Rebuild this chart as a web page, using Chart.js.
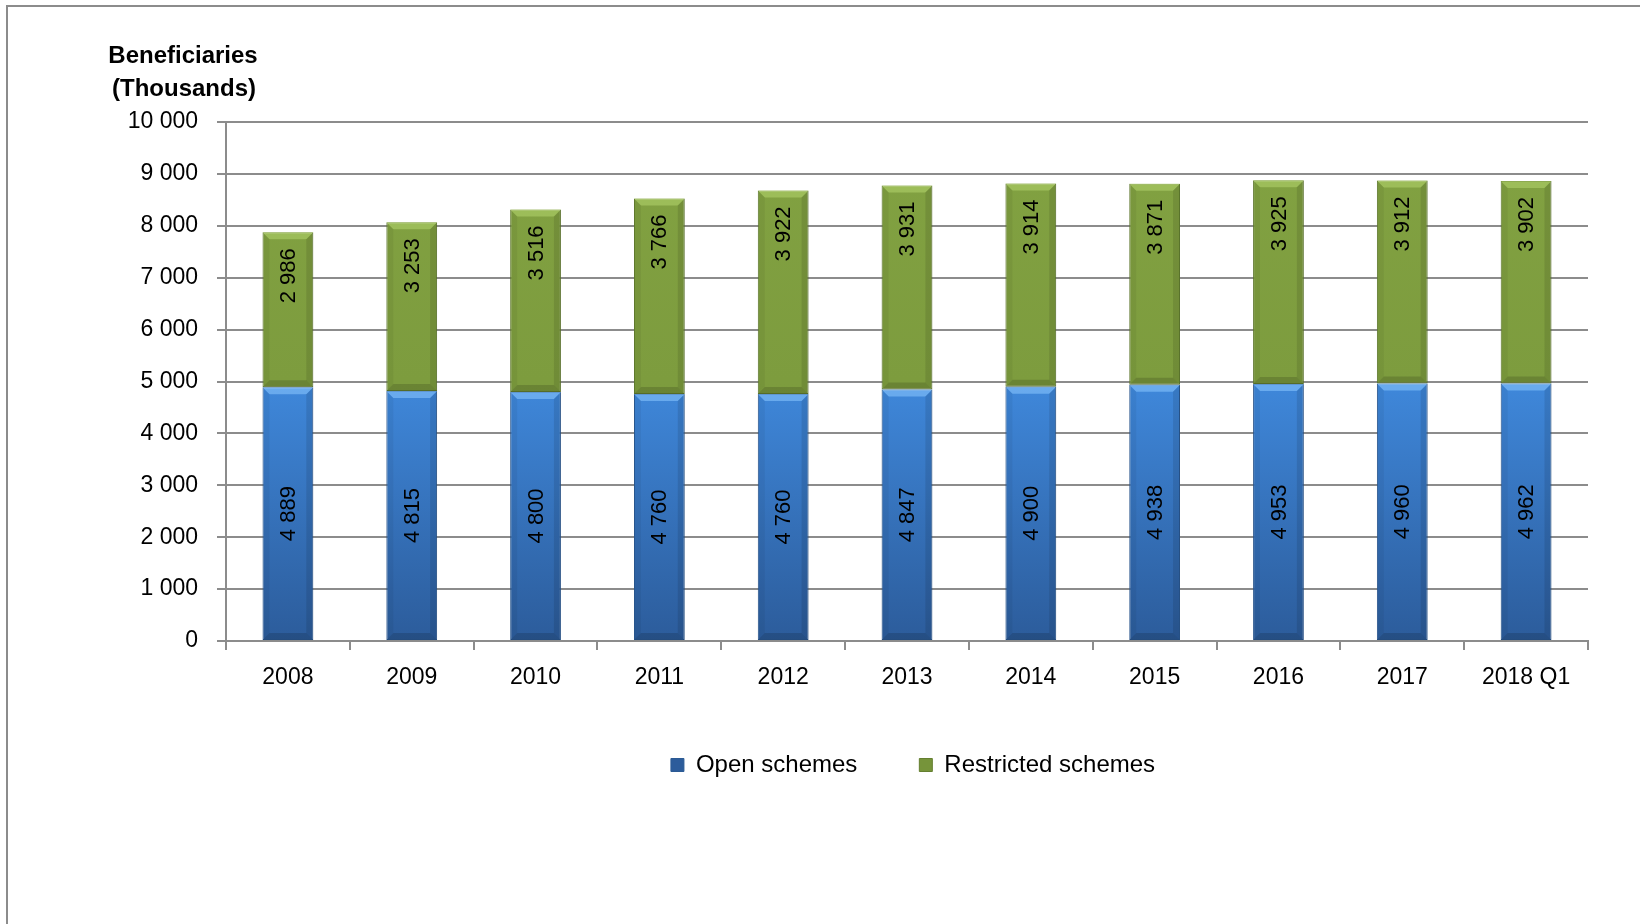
<html>
  <head>
    <title>Beneficiaries by scheme type</title>
    <script src="https://cdn.jsdelivr.net/npm/chart.js@4.4.1/dist/chart.umd.min.js"></script>
    <style>
      body   { margin:0; background:#fff; overflow:hidden; }
      .frame { position:absolute; left:6px; top:5px; width:1700px; height:1000px; border-left:2px solid #8c8c8c; border-top:2px solid #8c8c8c; }
      .wrap  { position:absolute; left:0; top:0; width:1640px; height:924px; }
    </style>
  </head>
  <body>
    <div class="frame"></div>
    <div class="wrap"><canvas id="myChart" width="1640" height="924"></canvas></div>
    <script>
      var years = ['2008', '2009', '2010', '2011', '2012', '2013', '2014', '2015', '2016', '2017', '2018 Q1'];
      var openSchemes = [4889, 4815, 4800, 4760, 4760, 4847, 4900, 4938, 4953, 4960, 4962];
      var restrictedSchemes = [2986, 3253, 3516, 3766, 3922, 3931, 3914, 3871, 3925, 3912, 3902];
      var axisTitle = ['Beneficiaries', '(Thousands)'];

      var FONT = "'Liberation Sans', Arial, sans-serif";

      function fmt(v) {
        return String(v).replace(/\B(?=(\d{3})+(?!\d))/g, ' ');
      }

      function vgrad(ctx, stops, fallback) {
        var chart = ctx.chart;
        var area = chart.chartArea;
        if (!area) return fallback;
        var g = chart.ctx.createLinearGradient(0, area.top, 0, area.bottom);
        stops.forEach(function(s) { g.addColorStop(s[0], s[1]); });
        return g;
      }

      // bevelled look of the bars
      var bevelPlugin = {
        id: 'bevel',
        afterDatasetsDraw: function(chart) {
          var c = chart.ctx;
          chart.data.datasets.forEach(function(ds, di) {
            var meta = chart.getDatasetMeta(di);
            meta.data.forEach(function(bar) {
              var l = bar.x - bar.width / 2, r = bar.x + bar.width / 2;
              var t = Math.min(bar.y, bar.base), b = Math.max(bar.y, bar.base);
              var s = 7;
              c.save();
              c.fillStyle = di == 0 ? 'rgba(140,200,255,0.55)' : 'rgba(190,225,120,0.45)';
              c.beginPath(); c.moveTo(l, t); c.lineTo(r, t); c.lineTo(r - s, t + s); c.lineTo(l + s, t + s); c.closePath(); c.fill();
              c.fillStyle = 'rgba(0,0,0,0.05)';
              c.beginPath(); c.moveTo(l, t); c.lineTo(l + s, t + s); c.lineTo(l + s, b - s); c.lineTo(l, b); c.closePath(); c.fill();
              c.fillStyle = 'rgba(0,0,0,0.10)';
              c.beginPath(); c.moveTo(r, t); c.lineTo(r - s, t + s); c.lineTo(r - s, b - s); c.lineTo(r, b); c.closePath(); c.fill();
              c.fillStyle = 'rgba(0,0,0,0.15)';
              c.beginPath(); c.moveTo(l, b); c.lineTo(l + s, b - s); c.lineTo(r - s, b - s); c.lineTo(r, b); c.closePath(); c.fill();
              c.restore();
            });
          });
        }
      };

      // rotated value labels inside the bars
      var labelPlugin = {
        id: 'barLabels',
        afterDatasetsDraw: function(chart) {
          var c = chart.ctx;
          c.save();
          c.font = '22px ' + FONT;
          c.fillStyle = '#000';
          c.textBaseline = 'middle';
          chart.data.datasets.forEach(function(ds, di) {
            var meta = chart.getDatasetMeta(di);
            meta.data.forEach(function(bar, i) {
              var txt = fmt(ds.data[i]);
              c.save();
              if (di == 0) {
                c.translate(bar.x, (bar.y + bar.base) / 2);
                c.rotate(-Math.PI / 2);
                c.textAlign = 'center';
              } else {
                c.translate(bar.x, bar.y + 16);
                c.rotate(-Math.PI / 2);
                c.textAlign = 'right';
              }
              c.fillText(txt, 0, 1);
              c.restore();
            });
          });
          c.restore();
        }
      };

      var titlePlugin = {
        id: 'axisTitle',
        afterDraw: function(chart) {
          var c = chart.ctx;
          c.save();
          c.font = 'bold 24px ' + FONT;
          c.fillStyle = '#000';
          c.textAlign = 'center';
          c.textBaseline = 'middle';
          c.fillText(axisTitle[0], 183, 56);
          c.fillText(axisTitle[1], 184, 89);
          c.restore();
        }
      };

      // centre the legend under the plot area instead of the whole canvas
      var legendShift = {
        id: 'legendShift',
        afterLayout: function(chart) {
          var lg = chart.legend;
          var dx = (chart.chartArea.left + chart.chartArea.right) / 2 + 6 - (lg.left + lg.right) / 2;
          lg.left += dx;
          lg.right += dx;
        }
      };

      var ctx = document.getElementById('myChart').getContext('2d');
      var myChart = new Chart(ctx, {
        type: 'bar',
        data: {
          labels: years,
          datasets: [{
            label: 'Open schemes',
            data: openSchemes,
            backgroundColor: function(cx) { return vgrad(cx, [[0, '#4a93e6'], [0.5, '#3f88db'], [1, '#2c5c9b']], '#3b7fd0'); },
            borderColor: '#2b5a94',
            borderWidth: 1,
            borderSkipped: false
          }, {
            label: 'Restricted schemes',
            data: restrictedSchemes,
            backgroundColor: function(cx) { return vgrad(cx, [[0, '#82a242'], [0.5, '#7d9c3e'], [1, '#76943a']], '#7e9c3e'); },
            borderColor: '#647f30',
            borderWidth: 1,
            borderSkipped: false
          }]
        },
        options: {
          responsive: false,
          animation: false,
          devicePixelRatio: 1,
          datasets: { bar: { categoryPercentage: 1, barPercentage: 0.41 } },
          layout: { padding: { left: 0, right: 52, top: 122, bottom: 137 } },
          plugins: {
            legend: {
              position: 'bottom',
              labels: {
                font: { family: FONT, size: 24 },
                color: '#000',
                boxWidth: 13,
                boxHeight: 13,
                padding: 62
              }
            },
            tooltip: { enabled: false }
          },
          scales: {
            x: {
              stacked: true,
              grid: { drawOnChartArea: false, color: '#8c8c8c', lineWidth: 2, tickLength: 9, offset: true },
              border: { color: '#8c8c8c', width: 2 },
              ticks: { font: { family: FONT, size: 23 }, color: '#000', padding: 14, maxRotation: 0 },
              afterFit: function(scale) { scale.height = 50; }
            },
            y: {
              stacked: true,
              min: 0,
              max: 10000,
              ticks: { stepSize: 1000, font: { family: FONT, size: 23 }, color: '#000', padding: 19, callback: function(v) { return fmt(v); } },
              grid: { color: '#8c8c8c', lineWidth: 2, tickLength: 9 },
              border: { color: '#8c8c8c', width: 2 },
              afterFit: function(scale) { scale.width = 226; }
            }
          }
        },
        plugins: [bevelPlugin, labelPlugin, titlePlugin, legendShift]
      });
    </script>
  </body>
</html>
